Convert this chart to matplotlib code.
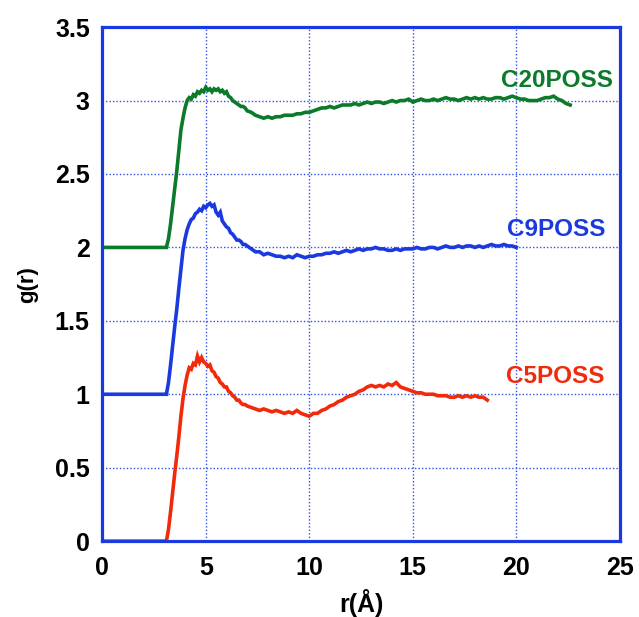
import numpy as np
import matplotlib
matplotlib.use("Agg")
import matplotlib.pyplot as plt

plt.rcParams['font.family'] = ['Liberation Sans', 'DejaVu Sans']

# ---- data ----
series_names = ["C5POSS", "C9POSS", "C20POSS"]

# rise region grid (Å), shared
r_rise = np.round(np.arange(3.1, 7.05, 0.1), 2)

# C5POSS
g5_lead = [0.0, 0.0]
g5_rise = [0.00, 0.08, 0.20, 0.33, 0.46, 0.58, 0.71, 0.85, 0.97, 1.06,
           1.13, 1.18, 1.17, 1.21, 1.20, 1.26, 1.22, 1.25, 1.22, 1.21,
           1.19, 1.20, 1.16, 1.15, 1.12, 1.11, 1.08, 1.07, 1.05, 1.05,
           1.02, 1.01, 0.99, 0.98, 0.96, 0.96, 0.94, 0.93, 0.93, 0.92]
g5_tail = [0.91, 0.90, 0.89, 0.90, 0.89, 0.88, 0.89, 0.88, 0.87, 0.88,
           0.87, 0.89, 0.87, 0.86, 0.85, 0.87, 0.87, 0.89, 0.90, 0.92,
           0.93, 0.95, 0.96, 0.98, 0.99, 1.00, 1.02, 1.03, 1.05, 1.06,
           1.05, 1.06, 1.05, 1.07, 1.06, 1.08, 1.05, 1.04, 1.03, 1.02,
           1.01, 1.01, 1.00, 1.00, 1.00, 0.99, 0.99, 0.99, 0.98, 0.98,
           0.99, 0.98, 0.99, 0.98, 0.99, 0.98, 0.98, 0.96]

# C9POSS
g9_lead = [1.0, 1.0]
g9_rise = [1.00, 1.08, 1.20, 1.33, 1.46, 1.58, 1.72, 1.85, 1.98, 2.06,
           2.12, 2.16, 2.19, 2.20, 2.23, 2.24, 2.26, 2.25, 2.28, 2.27,
           2.29, 2.30, 2.28, 2.29, 2.24, 2.22, 2.24, 2.18, 2.16, 2.14,
           2.13, 2.10, 2.09, 2.07, 2.05, 2.05, 2.04, 2.02, 2.02, 2.01]
g9_tail = [1.99, 1.97, 1.97, 1.95, 1.96, 1.95, 1.94, 1.94, 1.93, 1.94,
           1.93, 1.95, 1.94, 1.93, 1.94, 1.94, 1.95, 1.95, 1.96, 1.96,
           1.97, 1.96, 1.97, 1.98, 1.97, 1.98, 1.99, 1.98, 1.99, 1.99,
           2.00, 1.99, 1.99, 1.98, 1.98, 1.99, 1.98, 1.99, 1.99, 1.99,
           2.00, 1.99, 1.99, 2.00, 2.00, 1.99, 2.00, 2.01, 2.00, 2.00,
           2.01, 2.00, 2.01, 2.01, 2.00, 2.01, 2.00, 2.01, 2.02, 2.01,
           2.01, 2.02, 2.01, 2.01, 2.00]

# C20POSS
g20_lead = [2.0, 2.0]
g20_rise = [2.00, 2.06, 2.16, 2.28, 2.40, 2.52, 2.66, 2.80, 2.88, 2.95,
            3.00, 3.02, 3.01, 3.04, 3.03, 3.06, 3.05, 3.07, 3.06, 3.09,
            3.07, 3.08, 3.06, 3.08, 3.07, 3.08, 3.06, 3.07, 3.05, 3.06,
            3.03, 3.02, 3.00, 2.99, 2.98, 2.97, 2.96, 2.96, 2.95, 2.93]
g20_tail = [2.92, 2.90, 2.89, 2.88, 2.89, 2.88, 2.89, 2.89, 2.90, 2.90,
            2.90, 2.91, 2.91, 2.92, 2.92, 2.93, 2.94, 2.95, 2.95, 2.96,
            2.95, 2.96, 2.97, 2.97, 2.97, 2.98, 2.97, 2.98, 2.99, 2.98,
            2.99, 2.99, 2.98, 2.99, 3.00, 2.99, 3.00, 3.00, 3.01, 2.99,
            3.00, 3.01, 3.00, 3.00, 3.01, 3.00, 3.01, 3.02, 3.01, 3.01,
            3.00, 3.01, 3.02, 3.01, 3.02, 3.01, 3.02, 3.01, 3.01, 3.02,
            3.02, 3.01, 3.02, 3.03, 3.02, 3.01, 3.01, 3.00, 3.00, 3.00,
            3.01, 3.02, 3.02, 3.03, 3.01, 3.00, 2.98, 2.97]

x_ticks = [0, 5, 10, 15, 20, 25]
y_ticks = [0, 0.5, 1, 1.5, 2, 2.5, 3, 3.5]
y_tick_labels = ["0", "0.5", "1", "1.5", "2", "2.5", "3", "3.5"]


def build(lead, rise, tail):
    r_lead = [0.0, 3.0]
    r_tail = np.round(7.2 + 0.2 * np.arange(len(tail)), 2)
    r = np.concatenate([r_lead, r_rise[:len(rise)], r_tail])
    g = np.concatenate([lead, rise, tail])
    return r, g


colors = {"C5POSS": "#f02a0a", "C9POSS": "#1a3ae0", "C20POSS": "#0b7a2a"}
data = {
    "C5POSS": build(g5_lead, g5_rise, g5_tail),
    "C9POSS": build(g9_lead, g9_rise, g9_tail),
    "C20POSS": build(g20_lead, g20_rise, g20_tail),
}
label_pos = {"C5POSS": (21.9, 1.12), "C9POSS": (21.95, 2.12), "C20POSS": (21.95, 3.14)}

fig = plt.figure(figsize=(6.39, 6.17), dpi=100)
ax = fig.add_axes([0.160, 0.123, 0.810, 0.833])

frame_c = "#1a3ae0"
for name in series_names:
    r, g = data[name]
    ax.plot(r, g, color=colors[name], lw=2.6, zorder=3, solid_joinstyle='miter')
    x, y = label_pos[name]
    ax.text(x, y, name, color=colors[name], fontsize=17.5, fontweight='bold',
            ha='center', va='center')

ax.set_xlim(0, 25)
ax.set_ylim(0, 3.5)
ax.set_xticks(x_ticks)
ax.set_yticks(y_ticks)
ax.set_yticklabels(y_tick_labels)
ax.grid(True, color="#3050e8", linestyle=(0, (1, 1.5)), linewidth=1.0)
ax.tick_params(axis='both', length=0, labelsize=18)
ax.tick_params(axis='y', pad=9)
ax.tick_params(axis='x', pad=11)
for lab in ax.get_xticklabels() + ax.get_yticklabels():
    lab.set_fontweight('bold')
for sp in ax.spines.values():
    sp.set_color(frame_c)
    sp.set_linewidth(2.3)
    sp.set_zorder(4)

ax.set_xlabel("r(Å)", fontsize=18, fontweight='bold', labelpad=6)
ax.set_ylabel("g(r)", fontsize=16, fontweight='bold', labelpad=12)

fig.savefig("out.png", dpi=100)
